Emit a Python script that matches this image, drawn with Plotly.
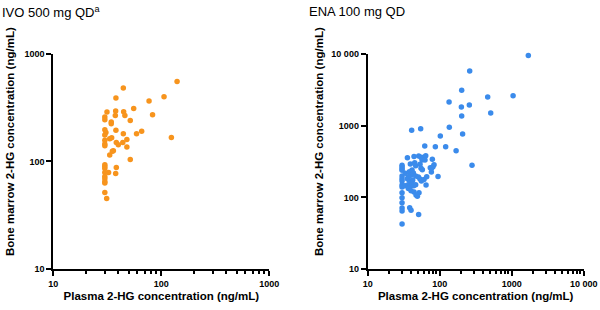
import plotly.graph_objects as go

# IVO 500 mg QD (left panel)
ivo_plasma = [140, 44.5, 106, 38, 77, 55.5, 31.4, 37.8, 44.8, 83, 37.5, 46, 30, 30, 51.6,
              34.4, 34.4, 30, 38, 65.8, 30.7, 59, 44.5, 30, 124, 34.7, 33.3, 48, 30, 38.3,
              44, 30, 30, 40, 48, 36, 35.2, 33.3, 51.6, 30, 30, 38.3, 30, 32.5, 30, 37.8,
              30, 30, 30, 30, 30, 31.2]
ivo_marrow = [550, 480, 398, 387, 363, 310, 287, 293, 289, 271, 267, 267, 258, 244, 240,
              232, 224, 197, 195, 191, 186, 181, 181, 176, 167, 166, 162, 160, 157, 150,
              150, 145, 140, 143, 136, 126, 124, 115, 104, 93, 90, 88, 86, 79, 79, 77.4,
              72.6, 69, 65, 63, 51.5, 45.3]

# ENA 100 mg QD (right panel)
ena_plasma = [1702, 261, 202, 464, 1045, 135, 200, 258, 511, 202, 40.8, 54.4, 136, 208, 102,
              62, 87, 121, 169, 281,
              35.6, 44, 51.1, 55, 60, 64, 79, 30, 30, 30, 30, 39.1, 45, 46.4, 53.3, 56.9,
              62.5, 55, 57.4, 74, 80.7, 83.4, 94.8, 30, 30, 30, 33.3, 37.9, 41.3, 43.1,
              39.5, 36.7, 35.6, 37.9, 40, 42.2, 46.4, 50.6, 53.3, 55.6, 60.5, 76.6, 77.4,
              64.6, 30, 30, 33, 36, 38.8, 41.7, 43.5, 46.4, 36.7, 40, 30, 44, 51.6, 49,
              30, 30, 30, 30, 38.3, 40, 51, 30, 46.9, 66]
ena_marrow = [9380, 5740, 3090, 2495, 2600, 2123, 1810, 1930, 1494, 1357, 857, 904, 943, 762, 715,
              519, 508, 508, 447, 279,
              356, 372, 376, 361, 361, 380, 338, 279, 264, 251, 238, 291, 304, 276, 288, 331,
              331, 254, 243, 259, 267, 285, 196, 198, 182, 169, 216, 228, 240, 218,
              203, 194, 182, 171, 163, 174, 198, 192, 180, 169, 178, 225, 256,
              149, 149, 139, 145, 149, 142, 153, 145, 150, 133, 124, 116, 119, 116, 104,
              99, 84, 71, 64.6, 71.8, 66, 58, 42.6, 108, 194]

panel_titles = ["IVO 500 mg QD<sup>a</sup>", "ENA 100 mg QD"]
x_title = "Plasma 2-HG concentration (ng/mL)"
y_title = "Bone marrow 2-HG concentration (ng/mL)"
left_ticks = [10, 100, 1000]
left_ticktext = ["10", "100", "1000"]
right_ticks = [10, 100, 1000, 10000]
right_ticktext = ["10", "100", "1000", "10 000"]

FONT = "Arial, Liberation Sans, sans-serif"
ORANGE = "#F7941D"
BLUE = "#3B8BEB"
W, H = 600, 310

fig = go.Figure()
fig.add_trace(go.Scatter(x=ivo_plasma, y=ivo_marrow, mode="markers",
                         marker=dict(color=ORANGE, size=5.5), xaxis="x", yaxis="y",
                         showlegend=False, cliponaxis=False))
fig.add_trace(go.Scatter(x=ena_plasma, y=ena_marrow, mode="markers",
                         marker=dict(color=BLUE, size=5.5), xaxis="x2", yaxis="y2",
                         showlegend=False, cliponaxis=False))

ydom = [1 - 269.3 / H, 1 - 53.6 / H]
common = dict(type="log", showgrid=False, zeroline=False, showline=True,
              linecolor="black", linewidth=2, ticks="outside", ticklen=5,
              tickwidth=2, tickcolor="black", automargin=False,
              tickfont=dict(family=FONT, size=9, color="black", weight="bold"))
xtitle = dict(text="<b>" + x_title + "</b>", font=dict(family=FONT, size=11.5, color="black"), standoff=4)
xminor = dict(ticks="outside", ticklen=3, tickwidth=1.5, tickcolor="black", dtick="D1", showgrid=False)

fig.update_layout(
    width=W, height=H, margin=dict(l=0, r=0, t=0, b=0),
    paper_bgcolor="white", plot_bgcolor="white",
    xaxis=dict(**common, domain=[53.3 / W, 269.3 / W], range=[1, 3],
               tickvals=left_ticks, ticktext=left_ticktext, anchor="y",
               title=xtitle, minor=xminor),
    yaxis=dict(**common, domain=ydom, range=[1, 3], tickvals=left_ticks,
               ticktext=left_ticktext, anchor="x"),
    xaxis2=dict(**common, domain=[367.7 / W, 583.7 / W], range=[1, 4],
                tickvals=right_ticks, ticktext=right_ticktext, anchor="y2",
                title=xtitle, minor=xminor),
    yaxis2=dict(**common, domain=ydom, range=[1, 4], tickvals=right_ticks,
                ticktext=right_ticktext, anchor="x2"),
    annotations=[
        dict(text=panel_titles[0], x=0, y=1 - 12 / H, xref="paper", yref="paper",
             xanchor="left", yanchor="middle", showarrow=False,
             font=dict(family=FONT, size=13, color="black")),
        dict(text=panel_titles[1], x=307 / W, y=1 - 12 / H, xref="paper", yref="paper",
             xanchor="left", yanchor="middle", showarrow=False,
             font=dict(family=FONT, size=13, color="black")),
        dict(text="<b>" + y_title + "</b>", x=10 / W, y=1 - 142 / H, xref="paper", yref="paper",
             xanchor="center", yanchor="middle", textangle=-90, showarrow=False,
             font=dict(family=FONT, size=11.5, color="black")),
        dict(text="<b>" + y_title + "</b>", x=319 / W, y=1 - 142 / H, xref="paper", yref="paper",
             xanchor="center", yanchor="middle", textangle=-90, showarrow=False,
             font=dict(family=FONT, size=11.5, color="black")),
    ],
)

fig.write_html("out.html", config={"displayModeBar": False},
               post_script="document.body.style.margin='0px';document.body.style.overflow='hidden';")
